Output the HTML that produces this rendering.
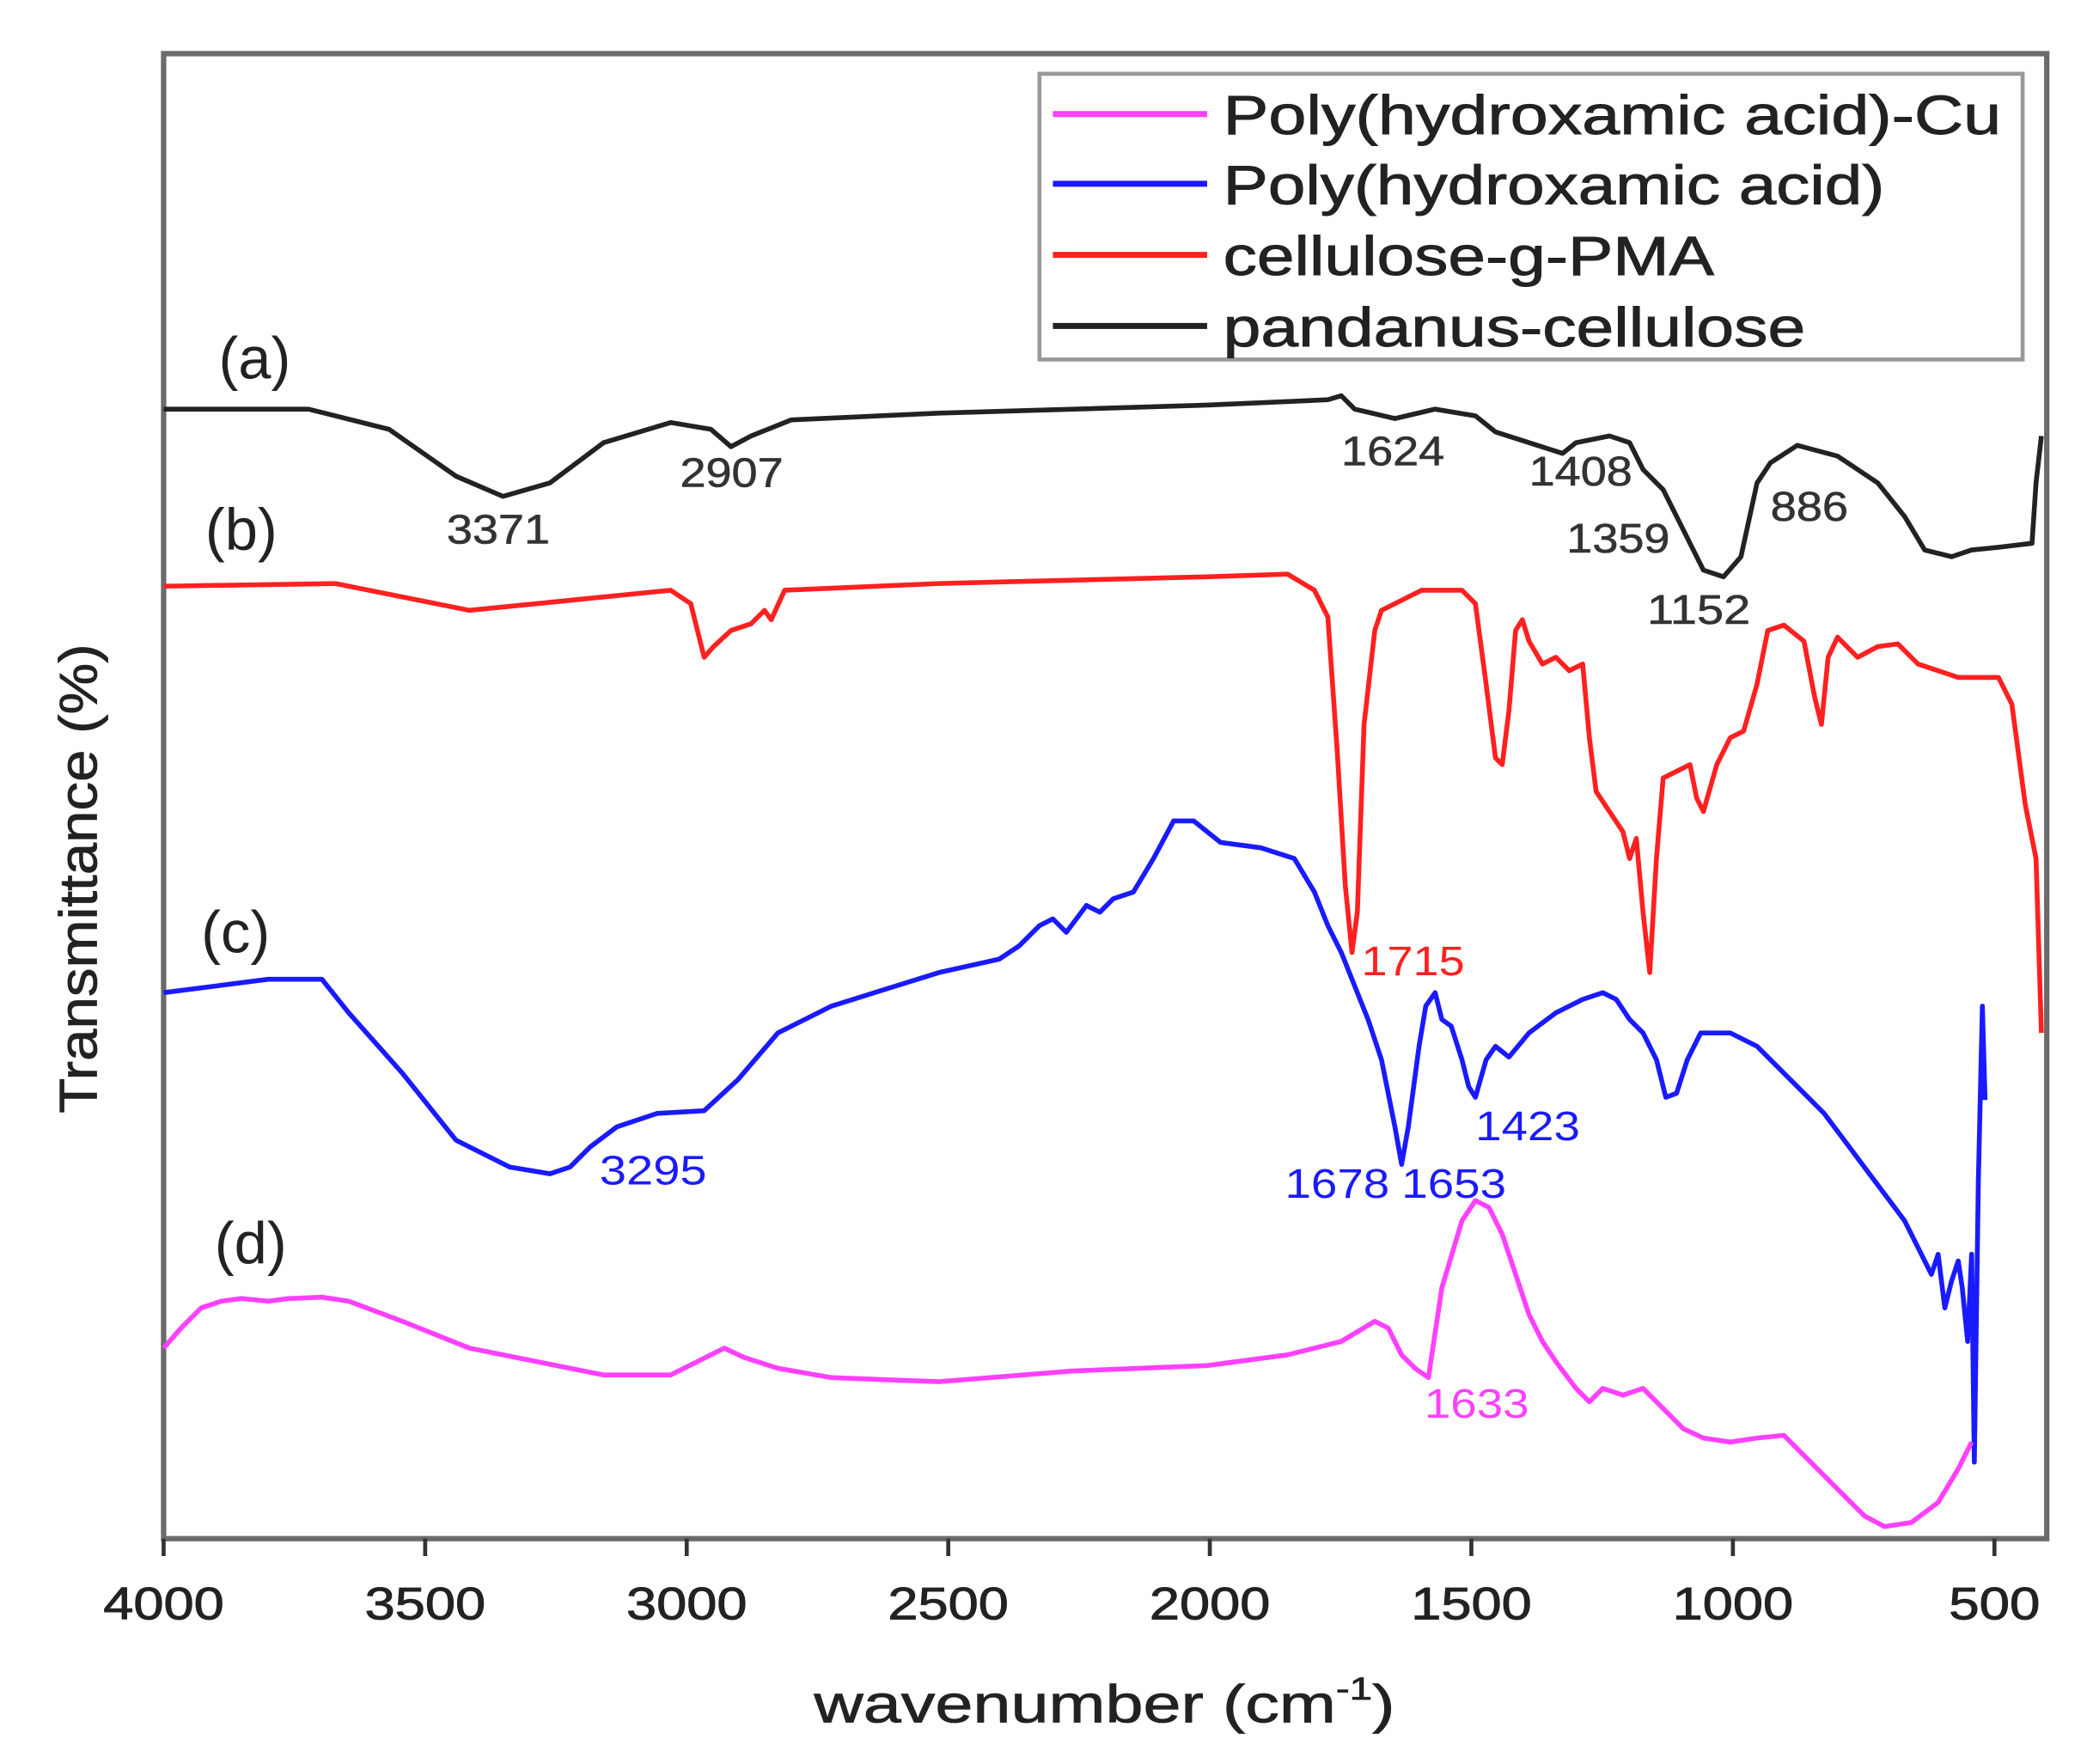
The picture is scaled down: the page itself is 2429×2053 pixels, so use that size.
<!DOCTYPE html>
<html><head><meta charset="utf-8"><style>
html,body{margin:0;padding:0;background:#fff;}
svg{display:block;}
text{font-family:"Liberation Sans",Arial,sans-serif;}
</style></head><body>
<svg width="2429" height="2053" viewBox="0 0 1556 1315" preserveAspectRatio="none" xmlns="http://www.w3.org/2000/svg">
<rect width="1556" height="1315" fill="#fff"/>
<rect x="122" y="40" width="1404" height="1107" fill="none" stroke="#6b6b6b" stroke-width="4"/>
<g stroke="#333" stroke-width="3">
<line x1="122" y1="1147" x2="122" y2="1160"/><line x1="317" y1="1147" x2="317" y2="1160"/>
<line x1="512" y1="1147" x2="512" y2="1160"/><line x1="707" y1="1147" x2="707" y2="1160"/>
<line x1="902" y1="1147" x2="902" y2="1160"/><line x1="1097" y1="1147" x2="1097" y2="1160"/>
<line x1="1292" y1="1147" x2="1292" y2="1160"/><line x1="1487" y1="1147" x2="1487" y2="1160"/>
</g>
<g font-size="34" fill="#222" stroke="#222" stroke-width="0.6" text-anchor="middle">
<text x="122" y="1207" textLength="90" lengthAdjust="spacingAndGlyphs">4000</text><text x="317" y="1207" textLength="90" lengthAdjust="spacingAndGlyphs">3500</text><text x="512" y="1207" textLength="90" lengthAdjust="spacingAndGlyphs">3000</text>
<text x="707" y="1207" textLength="90" lengthAdjust="spacingAndGlyphs">2500</text><text x="902" y="1207" textLength="90" lengthAdjust="spacingAndGlyphs">2000</text><text x="1097" y="1207" textLength="90" lengthAdjust="spacingAndGlyphs">1500</text>
<text x="1292" y="1207" textLength="90" lengthAdjust="spacingAndGlyphs">1000</text><text x="1487" y="1207" textLength="68" lengthAdjust="spacingAndGlyphs">500</text>
</g>
<text x="607" y="1284" font-size="40" fill="#222" stroke="#222" stroke-width="0.5" textLength="433" lengthAdjust="spacingAndGlyphs">wavenumber (cm<tspan font-size="24" dy="-17">-1</tspan><tspan dy="17">)</tspan></text>
<text transform="translate(72,830) rotate(-90)" font-size="40" fill="#222" stroke="#222" stroke-width="0.5" textLength="350" lengthAdjust="spacingAndGlyphs">Transmittance (%)</text>
<rect x="775" y="55" width="733" height="213" fill="#fff" stroke="#999" stroke-width="3"/>
<g stroke-width="4.5">
<line x1="785" y1="85" x2="900" y2="85" stroke="#ff40ff"/>
<line x1="785" y1="137" x2="900" y2="137" stroke="#1a1aff"/>
<line x1="785" y1="190" x2="900" y2="190" stroke="#ff2020"/>
<line x1="785" y1="243" x2="900" y2="243" stroke="#222"/>
</g>
<g font-size="41" fill="#222" stroke="#222" stroke-width="0.6">
<text x="912" y="100" textLength="580" lengthAdjust="spacingAndGlyphs">Poly(hydroxamic acid)-Cu</text>
<text x="912" y="152" textLength="493" lengthAdjust="spacingAndGlyphs">Poly(hydroxamic acid)</text>
<text x="912" y="205" textLength="366" lengthAdjust="spacingAndGlyphs">cellulose-g-PMA</text>
<text x="912" y="258" textLength="434" lengthAdjust="spacingAndGlyphs">pandanus-cellulose</text>
</g>
<g fill="none" stroke-width="3.6" stroke-linejoin="round">
<polyline stroke="#222" points="122,305 230,305 290,320 340,355 375,370 410,360 450,330 500,315 530,320 545,333 560,325 590,313 700,308 900,302 990,298 1000,295 1010,305 1040,312 1070,305 1100,310 1115,322 1140,330 1165,338 1175,330 1200,325 1215,330 1225,350 1240,365 1255,395 1270,425 1285,430 1298,415 1310,360 1320,345 1340,332 1370,340 1400,360 1420,385 1435,410 1455,415 1470,410 1490,408 1515,405 1518,360 1522,325"/>
<polyline stroke="#ff2020" points="122,437 250,435 300,445 350,455 400,450 500,440 515,450 525,490 532,482 545,470 560,465 570,455 575,462 585,440 700,435 900,430 960,428 980,440 990,460 997,560 1003,660 1008,710 1012,680 1017,540 1025,470 1030,455 1060,440 1090,440 1100,450 1108,510 1115,565 1120,570 1125,530 1130,470 1135,462 1140,478 1150,495 1160,490 1170,500 1180,495 1185,550 1190,590 1200,605 1210,620 1215,640 1220,625 1225,680 1230,725 1235,640 1240,580 1250,575 1260,570 1265,595 1270,605 1280,570 1290,550 1300,545 1310,510 1318,470 1330,466 1345,478 1353,520 1358,540 1363,490 1370,475 1385,490 1400,482 1415,480 1430,495 1460,505 1490,505 1500,525 1510,600 1518,640 1522,770"/>
<polyline stroke="#1a1aff" points="122,740 200,730 240,730 260,755 300,800 340,850 380,870 410,875 425,870 440,855 460,840 490,830 525,828 550,805 580,770 620,750 700,725 745,715 760,705 775,690 785,685 795,695 810,675 820,680 830,670 845,665 860,640 875,612 890,612 910,628 940,632 965,640 980,665 990,690 1000,710 1010,735 1020,760 1030,790 1040,840 1045,868 1050,840 1058,780 1063,750 1070,740 1075,760 1082,765 1090,790 1095,810 1100,818 1108,790 1115,780 1125,788 1140,770 1160,755 1180,745 1195,740 1205,745 1215,760 1225,770 1235,790 1242,818 1250,815 1258,790 1268,770 1290,770 1310,780 1330,800 1360,830 1390,870 1420,910 1435,940 1440,950 1445,935 1450,975 1455,955 1460,940 1463,960 1467,1000 1470,935 1472,1090 1475,880 1478,750 1480,820"/>
<polyline stroke="#ff40ff" points="122,1005 135,990 150,975 165,970 180,968 200,970 215,968 240,967 260,970 300,985 350,1005 400,1015 450,1025 500,1025 520,1015 540,1005 555,1012 580,1020 620,1027 700,1030 800,1022 900,1018 960,1010 1000,1000 1025,985 1035,990 1045,1010 1055,1020 1065,1027 1075,960 1090,910 1100,895 1110,900 1120,920 1130,950 1140,980 1150,1000 1160,1015 1175,1035 1185,1045 1195,1035 1210,1040 1225,1035 1240,1050 1255,1065 1270,1072 1290,1075 1310,1072 1330,1070 1345,1085 1370,1110 1390,1130 1405,1138 1425,1135 1445,1120 1460,1095 1470,1075"/>
</g>
<g font-size="44" fill="#222">
<text x="163" y="282">(a)</text><text x="153" y="410">(b)</text>
<text x="150" y="710">(c)</text><text x="160" y="942">(d)</text>
</g>
<g font-size="31" fill="#333" stroke="#333" stroke-width="0.4">
<text x="333" y="405" textLength="77" lengthAdjust="spacingAndGlyphs">3371</text><text x="507" y="363" textLength="77" lengthAdjust="spacingAndGlyphs">2907</text><text x="1000" y="347" textLength="77" lengthAdjust="spacingAndGlyphs">1624</text>
<text x="1140" y="362" textLength="77" lengthAdjust="spacingAndGlyphs">1408</text><text x="1168" y="412" textLength="77" lengthAdjust="spacingAndGlyphs">1359</text><text x="1320" y="388" textLength="58" lengthAdjust="spacingAndGlyphs">886</text>
<text x="1228" y="465" textLength="77" lengthAdjust="spacingAndGlyphs">1152</text>
</g>
<text x="1015" y="727" font-size="31" fill="#ff2020" textLength="77" lengthAdjust="spacingAndGlyphs">1715</text>
<g font-size="31" fill="#1a1aff">
<text x="447" y="883" textLength="80" lengthAdjust="spacingAndGlyphs">3295</text><text x="1100" y="850" textLength="78" lengthAdjust="spacingAndGlyphs">1423</text>
<text x="958" y="893" textLength="78" lengthAdjust="spacingAndGlyphs">1678</text><text x="1045" y="893" textLength="78" lengthAdjust="spacingAndGlyphs">1653</text>
</g>
<text x="1062" y="1057" font-size="31" fill="#ff40ff" textLength="78" lengthAdjust="spacingAndGlyphs">1633</text>
</svg>
</body></html>
